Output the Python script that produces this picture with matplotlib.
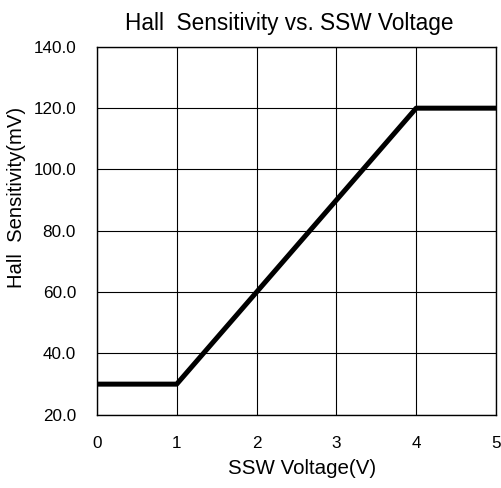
import matplotlib.pyplot as plt

plt.rcParams['font.family'] = ['Liberation Sans', 'DejaVu Sans']

# 数据
voltage = [0, 1, 4, 5]
sensitivity = [30, 30, 120, 120]
x_ticks = [0, 1, 2, 3, 4, 5]
y_ticks = [20, 40, 60, 80, 100, 120, 140]

fig = plt.figure(figsize=(5.02, 4.88), dpi=100)
ax = fig.add_axes([0.193, 0.150, 0.795, 0.754])

ax.plot(voltage, sensitivity, color='black', linewidth=3.6, solid_capstyle='round')

ax.set_xlim(0, 5)
ax.set_ylim(20, 140)
ax.set_xticks(x_ticks)
ax.set_yticks(y_ticks)
ax.set_yticklabels([f'{v:.1f}' for v in y_ticks])
ax.tick_params(length=0, labelsize=12.3)
ax.tick_params(axis='y', pad=15)
ax.tick_params(axis='x', pad=15)
ax.grid(True, color='black', linewidth=0.8)
for s in ax.spines.values():
    s.set_linewidth(1.0)

ax.set_title('Hall  Sensitivity vs. SSW Voltage', fontsize=16.3, pad=12, x=0.482)
ax.set_xlabel('SSW Voltage(V)', fontsize=14.8, labelpad=6, x=0.514)
ax.set_ylabel('Hall  Sensitivity(mV)', fontsize=14.6, labelpad=5, y=0.592)

fig.savefig('out.png', dpi=100)
